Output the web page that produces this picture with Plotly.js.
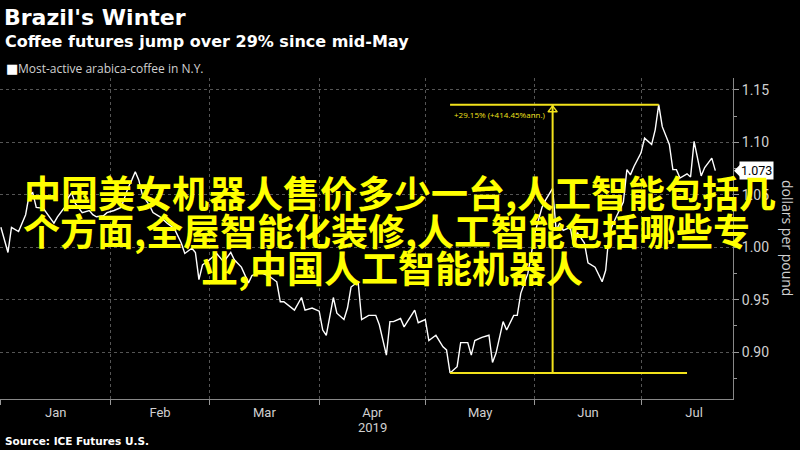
<!DOCTYPE html>
<html>
<head>
<meta charset="utf-8">
<script src="https://cdn.plot.ly/plotly-3.0.1.min.js"></script>
<style>
html,body{margin:0;padding:0;background:#000;}
#chart{width:800px;height:450px;}
</style>
</head>
<body>
<div id="chart"></div>
<script>
// ---- data ----
const dates = [
"2019-01-01","2019-01-03","2019-01-04","2019-01-06","2019-01-08","2019-01-09","2019-01-10","2019-01-11","2019-01-13","2019-01-15",
"2019-01-16","2019-01-17","2019-01-19","2019-01-20","2019-01-21","2019-01-22","2019-01-24","2019-01-26","2019-01-27","2019-01-28",
"2019-01-30","2019-01-31","2019-02-02","2019-02-04","2019-02-06","2019-02-07","2019-02-08","2019-02-09","2019-02-10","2019-02-12",
"2019-02-13","2019-02-15","2019-02-17","2019-02-19","2019-02-21","2019-02-22","2019-02-24","2019-02-25","2019-02-26","2019-02-27",
"2019-03-01","2019-03-03","2019-03-05","2019-03-07","2019-03-08","2019-03-10","2019-03-12","2019-03-13","2019-03-15","2019-03-16",
"2019-03-18","2019-03-20","2019-03-21","2019-03-22","2019-03-24","2019-03-25","2019-03-27","2019-03-28","2019-03-30","2019-04-01",
"2019-04-02","2019-04-03","2019-04-05","2019-04-06","2019-04-08","2019-04-09","2019-04-10","2019-04-12","2019-04-13","2019-04-15",
"2019-04-17","2019-04-18","2019-04-20","2019-04-21","2019-04-22","2019-04-24","2019-04-25","2019-04-27","2019-04-28","2019-04-29",
"2019-05-01","2019-05-02","2019-05-04","2019-05-06","2019-05-07","2019-05-08","2019-05-10","2019-05-11","2019-05-13","2019-05-14",
"2019-05-15","2019-05-17","2019-05-19","2019-05-20","2019-05-21","2019-05-23","2019-05-24","2019-05-26","2019-05-27","2019-05-28",
"2019-05-30","2019-05-31","2019-06-01","2019-06-02","2019-06-03","2019-06-04","2019-06-06","2019-06-07","2019-06-08","2019-06-09",
"2019-06-11","2019-06-12","2019-06-13","2019-06-15","2019-06-16","2019-06-18","2019-06-20","2019-06-21","2019-06-22","2019-06-24",
"2019-06-26","2019-06-27","2019-06-28","2019-06-29","2019-07-01","2019-07-02","2019-07-04","2019-07-05","2019-07-06","2019-07-07",
"2019-07-09","2019-07-10","2019-07-11","2019-07-12","2019-07-14","2019-07-15","2019-07-16","2019-07-18","2019-07-19","2019-07-21",
"2019-07-22"
];
const prices = [
1.019,0.995,1.019,1.015,1.031,1.050,1.052,1.038,1.037,1.028,
1.023,1.029,1.038,1.047,1.052,1.042,1.033,1.035,1.031,1.029,
1.030,1.033,1.035,1.038,1.057,1.064,1.072,1.064,1.050,1.040,
1.033,1.029,1.023,1.018,1.004,0.994,0.999,0.995,0.969,0.983,
0.988,0.994,0.986,0.995,0.988,0.981,0.966,0.973,0.976,0.975,
0.972,0.967,0.948,0.948,0.943,0.940,0.952,0.940,0.942,0.939,
0.921,0.916,0.952,0.937,0.931,0.942,0.962,0.967,0.931,0.935,
0.935,0.926,0.897,0.929,0.929,0.932,0.924,0.935,0.940,0.928,
0.931,0.911,0.916,0.905,0.902,0.880,0.886,0.909,0.909,0.897,
0.911,0.914,0.916,0.890,0.899,0.929,0.921,0.935,0.935,0.956,
0.975,0.994,1.014,1.026,1.038,1.045,1.056,1.016,1.023,1.016,
1.019,1.000,1.014,1.004,0.985,0.981,0.967,0.978,1.014,1.029,
1.043,1.074,1.069,1.077,1.090,1.104,1.098,1.112,1.136,1.115,
1.098,1.074,1.074,1.066,1.070,1.067,1.101,1.068,1.076,1.085,
1.073
];
const priceTicks = [0.90,0.95,1.00,1.05,1.10,1.15];
const lastLabel = "1.073";
const changeLabel = "+29.15% (+414.45%ann.)";
const lowLineEnd = "2019-07-14";

// ---- derived ----
let lowIdx = 0, highIdx = 0;
prices.forEach((v,i)=>{ if(v<prices[lowIdx]) lowIdx=i; if(v>prices[highIdx]) highIdx=i; });
const lowDate = dates[lowIdx], highDate = dates[highIdx];
const lowV = prices[lowIdx], highV = prices[highIdx];
const lastV = prices[prices.length-1];
const midMs = (new Date(lowDate).getTime() + new Date(highDate).getTime())/2;
const midDate = new Date(midMs).toISOString().slice(0,10);

const YEL = "#f2e21b";
const GRID = "#555";
const TXT = "#d0d0d0";
const narrow = "'Liberation Sans Narrow', 'Roboto', 'Liberation Sans', sans-serif";
const boldF = "'DejaVu Sans', 'Verdana', sans-serif";
const cjk = "'Noto Sans CJK SC', sans-serif";

const traces = [
  {x: dates, y: prices, type: "scatter", mode: "lines",
   line: {color: "#ffffff", width: 1.4}, hoverinfo: "skip", showlegend: false},
  {x: [midDate], y: [highV - 0.005], type: "scatter", mode: "markers",
   marker: {symbol: "triangle-up-open", size: 8, color: YEL, line: {color: YEL, width: 1.5}},
   hoverinfo: "skip", showlegend: false}
];

const shapes = [
  {type: "line", xref: "x", yref: "y", x0: lowDate, x1: highDate, y0: highV, y1: highV, line: {color: YEL, width: 2}},
  {type: "line", xref: "x", yref: "y", x0: midDate, x1: midDate, y0: lowV, y1: highV, line: {color: YEL, width: 2}},
  {type: "line", xref: "x", yref: "y", x0: lowDate, x1: lowLineEnd, y0: lowV, y1: lowV, line: {color: YEL, width: 2}},
  // pointer of the last-value tag
  {type: "path", xref: "paper", yref: "y", xsizemode: "pixel", ysizemode: "pixel",
   xanchor: 1, yanchor: lastV, path: "M 1 0 L 7 6 L 7 -6 Z",
   fillcolor: "#ffffff", line: {width: 0}, layer: "above"}
];

const ptop = 78, pbot = 399, ph = pbot - ptop, pw = 733;
const py = v => (pbot - v) / ph; // page pixel -> paper y
const px = v => v / pw;

const annotations = [
  {xref: "paper", yref: "paper", x: px(2), y: py(17), xanchor: "left", yanchor: "middle", showarrow: false,
   text: "<b>Brazil's Winter</b>", font: {family: boldF, size: 22, color: "#ffffff"}},
  {xref: "paper", yref: "paper", x: px(3), y: py(42), xanchor: "left", yanchor: "middle", showarrow: false,
   text: "<b>Coffee futures jump over 29% since mid-May</b>", font: {family: boldF, size: 16, color: "#ffffff"}},
  {xref: "paper", yref: "paper", x: px(4), y: py(68), xanchor: "left", yanchor: "middle", showarrow: false,
   text: "■", font: {family: "DejaVu Sans", size: 13, color: "#ffffff"}},
  {xref: "paper", yref: "paper", x: px(16), y: py(68), xanchor: "left", yanchor: "middle", showarrow: false,
   text: "Most-active arabica-coffee in N.Y.", font: {family: "'Open Sans', sans-serif", size: 12, color: TXT}},
  {xref: "paper", yref: "paper", x: px(3), y: py(441), xanchor: "left", yanchor: "middle", showarrow: false,
   text: "<b>Source: ICE Futures U.S.</b>", font: {family: boldF, size: 10.5, color: "#ffffff"}},
  {xref: "x", yref: "paper", x: "2019-04-16", y: py(428), xanchor: "center", yanchor: "middle", showarrow: false,
   text: "2019", font: {family: narrow, size: 13, color: TXT}},
  {xref: "paper", yref: "paper", x: px(788), y: py(238), xanchor: "center", yanchor: "middle", showarrow: false,
   textangle: 90, text: "dollars per pound", font: {family: "'Open Sans', sans-serif", size: 14, color: TXT}},
  {xref: "paper", yref: "y", x: 1, xshift: 6, y: lastV, xanchor: "left", yanchor: "middle", showarrow: false,
   text: lastLabel, bgcolor: "#ffffff", borderpad: 1, font: {family: narrow, size: 12.5, color: "#000000"}},
  {xref: "x", yref: "y", x: lowDate, y: highV, xanchor: "left", yanchor: "top", xshift: 2, yshift: -2, showarrow: false,
   text: changeLabel, font: {family: "'Open Sans', sans-serif", size: 8, color: YEL}},
  {xref: "paper", yref: "paper", x: px(400), y: py(192), xanchor: "center", yanchor: "middle", showarrow: false,
   text: "<b>中国美女机器人售价多少一台,人工智能包括几</b>", font: {family: cjk, size: 37, color: "#ffff00"}},
  {xref: "paper", yref: "paper", x: px(386), y: py(230), xanchor: "center", yanchor: "middle", showarrow: false,
   text: "<b>个方面,全屋智能化装修,人工智能包括哪些专</b>", font: {family: cjk, size: 37, color: "#ffff00"}},
  {xref: "paper", yref: "paper", x: px(392), y: py(267), xanchor: "center", yanchor: "middle", showarrow: false,
   text: "<b>业,中国人工智能机器人</b>", font: {family: cjk, size: 37, color: "#ffff00"}}
];

const layout = {
  width: 800, height: 450,
  paper_bgcolor: "#000000", plot_bgcolor: "#000000",
  margin: {l: 0, r: 800 - pw, t: ptop, b: 450 - pbot},
  showlegend: false,
  xaxis: {
    type: "date", range: ["2018-12-31 18:00", "2019-07-27"],
    tick0: "2019-01-01", dtick: "M1", tickformat: "%b", ticklabelmode: "period",
    ticks: "outside", ticklen: 5, tickcolor: "#999", tickwidth: 1,
    ticklabelstandoff: -4,
    showline: true, linecolor: "#888", linewidth: 1,
    showgrid: true, gridcolor: GRID, griddash: "dot", gridwidth: 1,
    tickfont: {family: narrow, size: 13, color: TXT},
    zeroline: false, fixedrange: true
  },
  yaxis: {
    side: "right", range: [0.8552, 1.1614],
    tickvals: priceTicks, tickformat: ".2f",
    ticks: "outside", ticklen: 5, tickcolor: "#999", tickwidth: 1,
    minor: {dtick: 0.05, tick0: 0.875, ticks: "outside", ticklen: 3, tickcolor: "#999", showgrid: false},
    showline: true, linecolor: "#888", linewidth: 1,
    showgrid: true, gridcolor: GRID, griddash: "dot", gridwidth: 1,
    tickfont: {family: narrow, size: 14, color: TXT},
    zeroline: false, fixedrange: true
  },
  shapes: shapes,
  annotations: annotations
};

Plotly.newPlot("chart", traces, layout, {staticPlot: true, displayModeBar: false});
</script>
</body>
</html>
